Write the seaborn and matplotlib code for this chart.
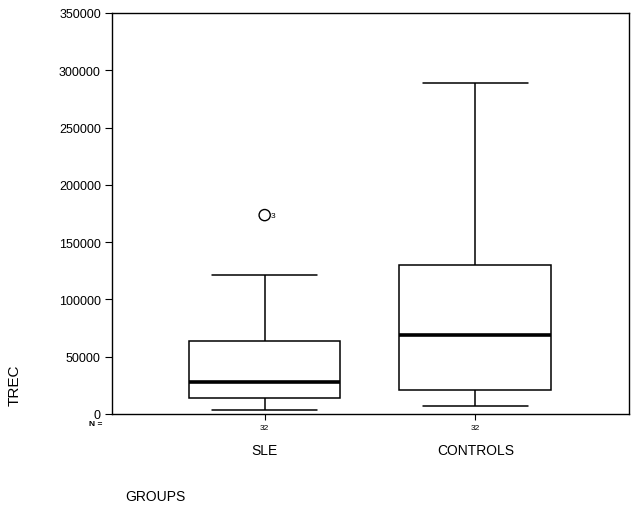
"""
TREC levels by group (SLE vs controls), SPSS-style box plot
"""

import matplotlib
matplotlib.use("Agg")
import matplotlib.pyplot as plt
import matplotlib.transforms as mtransforms
import numpy as np
import pandas as pd
import seaborn as sns

groups = ["SLE", "CONTROLS"]
# five-number summaries: min, Q1, median, Q3, max
sle_summary = [3700, 14000, 27700, 64000, 121500]
controls_summary = [6700, 21200, 68900, 130300, 289000]
n_cases = [32, 32]
# outlier (case number 3 in SLE)
outlier_group = ["SLE"]
outlier_value = [173600]
outlier_case = ["3"]

df = pd.DataFrame({
    "GROUPS": [groups[0]] * len(sle_summary) + [groups[1]] * len(controls_summary),
    "TREC": sle_summary + controls_summary,
})
out_df = pd.DataFrame({"GROUPS": outlier_group, "TREC": outlier_value})

sns.set_style("white")
plt.rcParams["font.family"] = ["Liberation Sans", "DejaVu Sans"]
plt.rcParams["text.color"] = "black"
plt.rcParams["xtick.color"] = "black"
plt.rcParams["ytick.color"] = "black"

fig = plt.figure(figsize=(6.35, 5.1), dpi=100)
ax = fig.add_axes([112 / 635, 1 - 415 / 510, 517 / 635, 401 / 510])

line = dict(color="black", linewidth=1.1)
sns.boxplot(data=df, x="GROUPS", y="TREC", order=groups, ax=ax,
            width=0.72, color="white", linecolor="black", showfliers=False,
            boxprops=dict(facecolor="white", edgecolor="black", linewidth=1.1),
            whiskerprops=line, capprops=line,
            medianprops=dict(color="black", linewidth=2.6),
            capwidths=0.5)

sns.scatterplot(data=out_df, x="GROUPS", y="TREC", ax=ax, marker="o", s=65,
                facecolor="none", edgecolor="black", linewidth=1.0, legend=False)
for g, v, c in zip(outlier_group, outlier_value, outlier_case):
    ax.annotate(c, (groups.index(g), v), xytext=(4.5, 0), textcoords="offset points",
                fontsize=6, va="center", ha="left")

ax.set_xlim(-0.725, 1.73)
ax.set_ylim(0, 350000)
ax.set_yticks(np.arange(0, 350001, 50000))
ax.set_yticklabels([f"{int(t)}" for t in np.arange(0, 350001, 50000)], fontsize=9)
ax.set_xticks(range(len(groups)))
ax.set_xticklabels([str(n) for n in n_cases], fontsize=6)
ax.tick_params(axis="y", direction="out", length=5, width=0.8, pad=3, left=True)
ax.tick_params(axis="x", direction="out", length=4, width=0.8, pad=3, bottom=True)
for s in ax.spines.values():
    s.set_color("black")
    s.set_linewidth(1.0)

ax.set_xlabel("")
ax.set_ylabel("")

trans = mtransforms.blended_transform_factory(ax.transData, fig.transFigure)
for i, g in enumerate(groups):
    ax.text(i, 1 - 451 / 510, g, transform=trans, ha="center", va="center", fontsize=10)
fig.text(89 / 635, 1 - 425 / 510, "N =", fontsize=6, ha="left", va="center", weight="bold")
fig.text(155 / 635, 1 - 497 / 510, "GROUPS", fontsize=10, ha="center", va="center")
fig.text(15 / 635, 1 - 385 / 510, "TREC", fontsize=11, rotation=90, ha="center", va="center")

fig.savefig("out.png", dpi=100)
